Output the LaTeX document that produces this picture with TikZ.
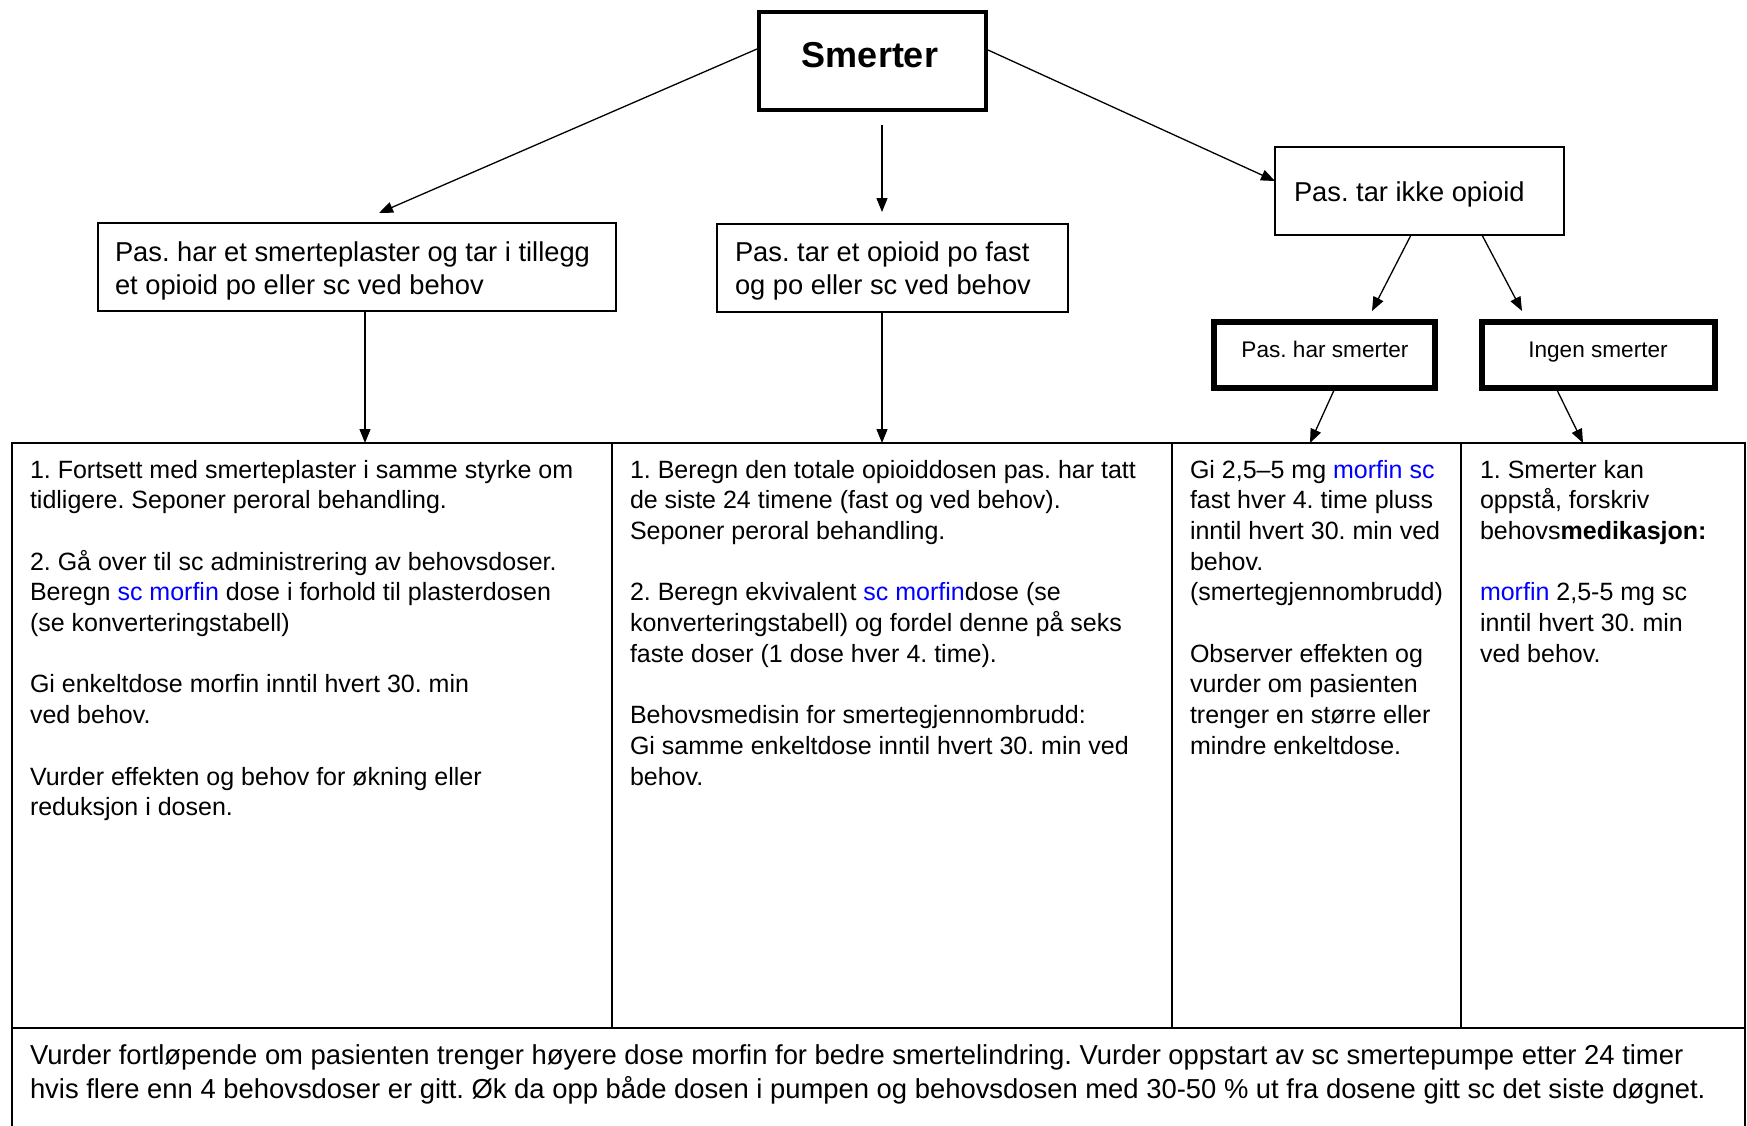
\documentclass[tikz,border=0pt]{standalone}
\usepackage{fontspec}
\setmainfont{Liberation Sans}
\usetikzlibrary{arrows.meta,calc}
\frenchspacing
\newcommand\tabfont{\fontsize{25}{30.7}\selectfont\frenchspacing}
\newcommand\boxfont{\fontsize{27.3}{33}\selectfont\frenchspacing}
\newcommand\smallfont{\fontsize{22.6}{27}\selectfont\frenchspacing}
\newcommand\botfont{\fontsize{27.4}{33.4}\selectfont\frenchspacing}
\newcommand\bl[1]{\textcolor{blue}{#1}}
\begin{document}
\begin{tikzpicture}[x=1pt,y=-1pt,
  every node/.style={inner sep=0pt, outer sep=0pt},
  thinbox/.style={draw, line width=1.5pt, anchor=north west},
  thickbox/.style={draw, line width=6pt, anchor=north west},
  cell/.style={draw, line width=1.6pt, anchor=north west},
  txt/.style={anchor=base west, align=left},
  arr/.style={line width=1.3pt, -{Triangle[length=14pt,width=11pt]}}
]
\useasboundingbox (0,0) rectangle (1747,1125);

% top boxes
\node[draw, line width=4pt, anchor=north west, minimum width=227pt, minimum height=98pt] (S) at (759,12) {};
\node[font=\fontsize{36}{40}\selectfont\bfseries, anchor=base] (Stxt) at (870,67) {Smerter};

\node[thinbox, minimum width=518pt, minimum height=88pt] (A) at (98,223) {};
\node[txt, font=\boxfont] (Atxt) at (115,294) {Pas. har et smerteplaster og tar i tillegg\\et opioid po eller sc ved behov};

\node[thinbox, minimum width=351pt, minimum height=88pt] (B) at (717,224) {};
\node[txt, font=\boxfont] (Btxt) at (735,294) {Pas. tar et opioid po fast\\og po eller sc ved behov};

\node[thinbox, minimum width=289pt, minimum height=88pt] (C) at (1275,147) {};
\node[txt, font=\boxfont] (Ctxt) at (1294,201) {Pas. tar ikke opioid};

\node[thickbox, minimum width=221pt, minimum height=66pt] (P) at (1214,322) {};
\node[font=\smallfont, anchor=base] (Ptxt) at (1325,357) {Pas. har smerter};

\node[thickbox, minimum width=233pt, minimum height=66pt] (N) at (1482,322) {};
\node[font=\smallfont, anchor=base] (Ntxt) at (1598,357) {Ingen smerter};

% table cells
\node[cell, minimum width=600pt, minimum height=585pt] (c1) at (12,443) {};
\node[cell, minimum width=560pt, minimum height=585pt] (c2) at (612,443) {};
\node[cell, minimum width=289pt, minimum height=585pt] (c3) at (1172,443) {};
\node[cell, minimum width=284pt, minimum height=585pt] (c4) at (1461,443) {};
\node[cell, minimum width=1733pt, minimum height=120pt] (c5) at (12,1028) {};

% (anchor = baseline of the last line)
\node[txt, font=\tabfont] (t1) at (30,815.7) {1. Fortsett med smerteplaster i samme styrke om\\
tidligere. Seponer peroral behandling.\\[30.7pt]
2. Gå over til sc administrering av behovsdoser.\\
Beregn \bl{sc morfin} dose i forhold til plasterdosen\\
(se konverteringstabell)\\[30.7pt]
Gi enkeltdose morfin inntil hvert 30. min\\
ved behov.\\[30.7pt]
Vurder effekten og behov for økning eller\\
reduksjon i dosen.};

\node[txt, font=\tabfont] (t2) at (630,785) {1. Beregn den totale opioiddosen pas. har tatt\\
de siste 24 timene (fast og ved behov).\\
Seponer peroral behandling.\\[30.7pt]
2. Beregn ekvivalent \bl{sc morfin}dose (se\\
konverteringstabell) og fordel denne på seks\\
faste doser (1 dose hver 4. time).\\[30.7pt]
Behovsmedisin for smertegjennombrudd:\\
Gi samme enkeltdose inntil hvert 30. min ved\\
behov.};

\node[txt, font=\tabfont] (t3) at (1190,754.3) {Gi 2,5–5 mg \bl{morfin sc}\\
fast hver 4. time pluss\\
inntil hvert 30. min ved\\
behov.\\
(smertegjennombrudd)\\[30.7pt]
Observer effekten og\\
vurder om pasienten\\
trenger en større eller\\
mindre enkeltdose.};

\node[txt, font=\tabfont] (t4) at (1480,662.2) {1. Smerter kan\\
oppstå, forskriv\\
behovs\textbf{medikasjon:}\\[30.7pt]
\bl{morfin} 2,5-5 mg sc\\
inntil hvert 30. min\\
ved behov.};

\node[txt, font=\botfont] (t5) at (30,1098) {Vurder fortløpende om pasienten trenger høyere dose morfin for bedre smertelindring. Vurder oppstart av sc smertepumpe etter 24 timer\\
hvis flere enn 4 behovsdoser er gitt. Øk da opp både dosen i pumpen og behovsdosen med 30-50 \% ut fra dosene gitt sc det siste døgnet.};

% connectors
\coordinate (sA) at (757,49);
\coordinate (eA) at (379,213);
\coordinate (sB) at (882,125);
\coordinate (eB) at (882,212);
\coordinate (sC) at (988,50);
\coordinate (eC) at (1275,181);
\coordinate (sP) at (1411,235);
\coordinate (eP) at (1372,311);
\coordinate (sN) at (1482,235);
\coordinate (eN) at (1522,311);

\draw[arr] (sA) -- (eA);
\draw[arr] (sB) -- (eB);
\draw[arr] (sC) -- (eC);
\draw[arr] (sP) -- (eP);
\draw[arr] (sN) -- (eN);
\draw[arr] (A.south -| 365,0) -- (c1.north -| 365,0);
\draw[arr] (B.south -| 882,0) -- (c2.north -| 882,0);
\draw[arr] (P.south -| 1335,0) -- (c3.north -| 1310,0);
\draw[arr] (N.south -| 1556,0) -- (c4.north -| 1583,0);
\end{tikzpicture}
\end{document}
